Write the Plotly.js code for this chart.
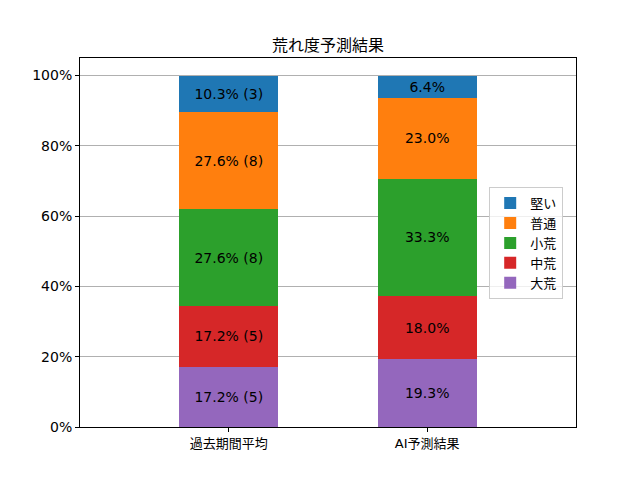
<!DOCTYPE html>
<html>
    <head>
        <meta charset="utf-8">
        <script src="https://cdn.plot.ly/plotly-3.0.1.min.js"></script>
        <style>body{margin:0;} #plot{width:640px;height:480px;}</style>
    </head>
    <body>
        <div id="plot"></div>
        <script type="text/javascript">
            // categories and stacked series (bottom to top)
            var categories = ['過去期間平均', 'AI予測結果'];
            var seriesNames = ['大荒', '中荒', '小荒', '普通', '堅い'];
            var seriesColors = ['#9467bd', '#d62728', '#2ca02c', '#ff7f0e', '#1f77b4'];
            var pastPct = [17.2, 17.2, 27.6, 27.6, 10.3];
            var pastCount = [5, 5, 8, 8, 3];
            var aiPct = [19.3, 18.0, 33.3, 23.0, 6.4];
            var yTicks = [0, 20, 40, 60, 80, 100];

            var font = '"DejaVu Sans", "Noto Sans CJK JP", sans-serif';

            var traces = seriesNames.map(function(name, i) {
                return {
                    type: 'bar',
                    name: name,
                    x: categories,
                    y: [pastPct[i], aiPct[i]],
                    text: [pastPct[i].toFixed(1) + '% (' + pastCount[i] + ')', aiPct[i].toFixed(1) + '%'],
                    textposition: 'inside',
                    insidetextanchor: 'middle',
                    textangle: 0,
                    constraintext: 'none',
                    textfont: {family: font, size: 14, color: '#000'},
                    hoverinfo: 'none',
                    marker: {color: seriesColors[i], line: {width: 0}},
                    width: 0.5
                };
            });

            var layout = {
                width: 640,
                height: 480,
                barmode: 'stack',
                paper_bgcolor: '#fff',
                plot_bgcolor: '#fff',
                font: {family: font, size: 14, color: '#000'},
                margin: {l: 80, r: 64, t: 58, b: 53},
                title: {text: '荒れ度予測結果', x: 0.5, xref: 'paper', y: 0.905, yanchor: 'middle', font: {family: font, size: 16, color: '#000'}},
                showlegend: true,
                legend: {
                    x: 0.825, y: 0.65, xanchor: 'left', yanchor: 'top',
                    bordercolor: '#ccc', borderwidth: 1, bgcolor: 'rgba(255,255,255,0.8)',
                    font: {family: font, size: 13, color: '#000'},
                    itemwidth: 30
                },
                xaxis: {
                    type: 'category',
                    range: [-0.75, 1.75],
                    showgrid: false,
                    showline: true, mirror: true, linecolor: '#000', linewidth: 1,
                    ticks: 'outside', ticklen: 4, tickcolor: '#000',
                    tickfont: {family: font, size: 13, color: '#000'},
                    zeroline: false
                },
                yaxis: {
                    range: [0, 105],
                    tickvals: yTicks,
                    ticktext: yTicks.map(function(v) { return v + '%'; }),
                    showgrid: true, gridcolor: '#b0b0b0', gridwidth: 1,
                    showline: true, mirror: true, linecolor: '#000', linewidth: 1,
                    ticks: 'outside', ticklen: 4, tickcolor: '#000',
                    tickfont: {family: font, size: 14, color: '#000'},
                    zeroline: false
                }
            };

            Plotly.newPlot('plot', traces, layout, {staticPlot: true});
        </script>
    </body>
</html>
